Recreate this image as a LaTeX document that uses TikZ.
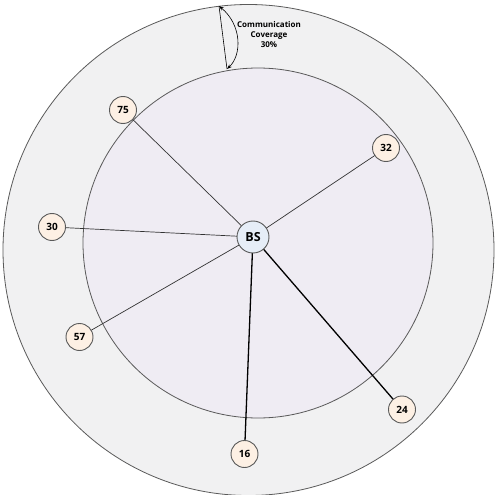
\documentclass[tikz,border=0pt]{standalone}
\usepackage{fontspec}
\setmainfont{Open Sans}
\usetikzlibrary{arrows.meta}
\pgfdeclarelayer{bg}
\pgfdeclarelayer{mid}
\pgfsetlayers{bg,mid,main}
\definecolor{ringfill}{RGB}{241,241,242}
\definecolor{innerfill}{RGB}{239,236,243}
\definecolor{nodefill}{RGB}{253,240,228}
\definecolor{bsfill}{RGB}{230,237,247}
\definecolor{edgegrey}{RGB}{90,90,90}
\tikzset{
  dev/.style={circle,draw=edgegrey,line width=0.9pt,fill=nodefill,minimum size=27pt,inner sep=0pt,font=\fontsize{10}{12}\selectfont\bfseries},
  bs/.style={circle,draw=edgegrey,line width=0.9pt,fill=bsfill,minimum size=32pt,inner sep=0pt,font=\fontsize{12.5}{14}\selectfont\bfseries},
  link/.style={draw=black!80,line width=0.7pt},
  strong/.style={draw=black,line width=1.3pt}
}
\begin{document}
\begin{tikzpicture}[x=1pt,y=-1pt]
\useasboundingbox (0,0) rectangle (496,495);
\begin{pgfonlayer}{bg}
\fill[white] (0,0) rectangle (496,495);
\draw[edgegrey,fill=ringfill,line width=0.8pt] (248.5,250) circle (245.5);
\draw[edgegrey,fill=innerfill,line width=0.8pt] (258,243) circle (175);
\end{pgfonlayer}
\coordinate (otop) at (219,6);
\coordinate (itop) at (227,69);
\node[bs] (bs) at (253,237) {BS};
\node[dev] (n75) at (123,110) {75};
\node[dev] (n32) at (386,148) {32};
\node[dev] (n30) at (52,227) {30};
\node[dev] (n57) at (79.5,337) {57};
\node[dev] (n24) at (402,409.5) {24};
\node[dev] (n16) at (244.5,454) {16};
\begin{pgfonlayer}{mid}
\draw[link] (bs.center) -- (n75.center);
\draw[link] (bs.center) -- (n32.center);
\draw[link] (bs.center) -- (n30.center);
\draw[link] (bs.center) -- (n57.center);
\draw[strong] (bs.center) -- (n24.center);
\draw[strong] (bs.center) -- (n16.center);
\end{pgfonlayer}
\node[align=center,font=\fontsize{8}{10}\selectfont\bfseries] (cov) at (269,35) {Communication\\Coverage\\30\%};
\draw[black,line width=0.6pt] (otop) -- (itop);
\draw[black,line width=0.6pt,{Stealth[length=5pt,width=3.5pt]}-{Stealth[length=5pt,width=3.5pt]}] (otop) .. controls (242,25) and (242,55) .. (itop);
\end{tikzpicture}
\end{document}
